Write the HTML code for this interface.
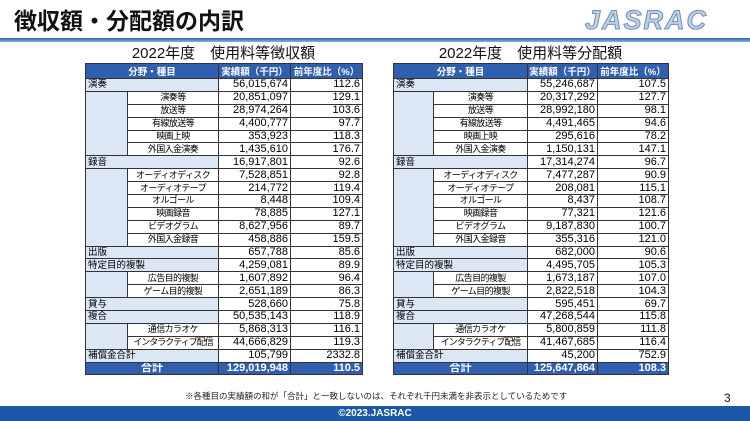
<!DOCTYPE html>
<html><head><meta charset="utf-8"><style>
body{margin:0;width:750px;height:421px;overflow:hidden;background:#fff;font-family:"Liberation Sans","Noto Sans CJK JP",sans-serif;position:relative}
.title{position:absolute;left:14px;top:2px;font-size:23px;font-weight:bold;color:#111}
.logo{position:absolute;left:585px;top:5px;font-size:27px;font-weight:bold;font-style:italic;color:#bcd0e8;letter-spacing:2px;-webkit-text-stroke:1px #6f8fb8}
.line{position:absolute;left:0;top:38px;width:750px;height:4px;background:linear-gradient(#2a63b0,#8fb0d8)}
.st{position:absolute;top:42px;font-size:15px;color:#111;text-align:center}
table{position:absolute;top:63px;border-collapse:collapse;font-size:10.5px;table-layout:fixed}
td{border:1px solid #333;height:11.9px;padding:0 2px;line-height:11px;white-space:nowrap;overflow:hidden}
th{background:#2f5fae;color:#fff;font-weight:bold;border:1px solid #333;height:13px;font-size:9.5px;padding:0}
.c{background:#dbe7f4;font-size:9.5px}
.s{text-align:center;background:#fff;font-size:9px;letter-spacing:-0.6px}
.n{text-align:right;background:#fff;font-size:11px}
tr.t td{background:#2f5fae;color:#fff;font-weight:bold;font-size:11px}
.foot{position:absolute;left:0;top:406px;width:750px;height:15px;background:#1b57a8;color:#fff;font-size:10px;font-weight:bold;text-align:center;line-height:15px}
.note{position:absolute;left:185px;top:390px;font-size:8.5px;color:#222}
.pg{position:absolute;left:724px;top:391px;font-size:12px;color:#111}
</style></head><body>
<div class="title">徴収額・分配額の内訳</div>
<div class="logo">JASRAC</div>
<div class="line"></div>
<div class="st" style="left:85px;width:277px">2022年度　使用料等徴収額</div>
<div class="st" style="left:393px;width:275px">2022年度　使用料等分配額</div>

<table style="left:85px;width:277px">
<colgroup><col style="width:42px"><col style="width:91px"><col style="width:72px"><col style="width:72px"></colgroup>
<tr><th colspan="2">分野・種目</th><th>実績額（千円）</th><th>前年度比（%）</th></tr>
<tr><td class="c" colspan="2">演奏</td><td class="n">56,015,674</td><td class="n">112.6</td></tr>
<tr><td class="c" rowspan="5"></td><td class="s">演奏等</td><td class="n">20,851,097</td><td class="n">129.1</td></tr>
<tr><td class="s">放送等</td><td class="n">28,974,264</td><td class="n">103.6</td></tr>
<tr><td class="s">有線放送等</td><td class="n">4,400,777</td><td class="n">97.7</td></tr>
<tr><td class="s">映画上映</td><td class="n">353,923</td><td class="n">118.3</td></tr>
<tr><td class="s">外国入金演奏</td><td class="n">1,435,610</td><td class="n">176.7</td></tr>
<tr><td class="c" colspan="2">録音</td><td class="n">16,917,801</td><td class="n">92.6</td></tr>
<tr><td class="c" rowspan="6"></td><td class="s">オーディオディスク</td><td class="n">7,528,851</td><td class="n">92.8</td></tr>
<tr><td class="s">オーディオテープ</td><td class="n">214,772</td><td class="n">119.4</td></tr>
<tr><td class="s">オルゴール</td><td class="n">8,448</td><td class="n">109.4</td></tr>
<tr><td class="s">映画録音</td><td class="n">78,885</td><td class="n">127.1</td></tr>
<tr><td class="s">ビデオグラム</td><td class="n">8,627,956</td><td class="n">89.7</td></tr>
<tr><td class="s">外国入金録音</td><td class="n">458,886</td><td class="n">159.5</td></tr>
<tr><td class="c" colspan="2">出版</td><td class="n">657,788</td><td class="n">85.6</td></tr>
<tr><td class="c" colspan="2">特定目的複製</td><td class="n">4,259,081</td><td class="n">89.9</td></tr>
<tr><td class="c" rowspan="2"></td><td class="s">広告目的複製</td><td class="n">1,607,892</td><td class="n">96.4</td></tr>
<tr><td class="s">ゲーム目的複製</td><td class="n">2,651,189</td><td class="n">86.3</td></tr>
<tr><td class="c" colspan="2">貸与</td><td class="n">528,660</td><td class="n">75.8</td></tr>
<tr><td class="c" colspan="2">複合</td><td class="n">50,535,143</td><td class="n">118.9</td></tr>
<tr><td class="c" rowspan="2"></td><td class="s">通信カラオケ</td><td class="n">5,868,313</td><td class="n">116.1</td></tr>
<tr><td class="s" style="letter-spacing:-1px">インタラクティブ配信</td><td class="n">44,666,829</td><td class="n">119.3</td></tr>
<tr><td class="c" colspan="2">補償金合計</td><td class="n">105,799</td><td class="n">2332.8</td></tr>
<tr class="t"><td colspan="2" style="text-align:center">合計</td><td style="text-align:right">129,019,948</td><td style="text-align:right">110.5</td></tr>
</table>

<table style="left:393px;width:275px">
<colgroup><col style="width:40px"><col style="width:94px"><col style="width:70px"><col style="width:71px"></colgroup>
<tr><th colspan="2">分野・種目</th><th>実績額（千円）</th><th>前年度比（%）</th></tr>
<tr><td class="c" colspan="2">演奏</td><td class="n">55,246,687</td><td class="n">107.5</td></tr>
<tr><td class="c" rowspan="5"></td><td class="s">演奏等</td><td class="n">20,317,292</td><td class="n">127.7</td></tr>
<tr><td class="s">放送等</td><td class="n">28,992,180</td><td class="n">98.1</td></tr>
<tr><td class="s">有線放送等</td><td class="n">4,491,465</td><td class="n">94.6</td></tr>
<tr><td class="s">映画上映</td><td class="n">295,616</td><td class="n">78.2</td></tr>
<tr><td class="s">外国入金演奏</td><td class="n">1,150,131</td><td class="n">147.1</td></tr>
<tr><td class="c" colspan="2">録音</td><td class="n">17,314,274</td><td class="n">96.7</td></tr>
<tr><td class="c" rowspan="6"></td><td class="s">オーディオディスク</td><td class="n">7,477,287</td><td class="n">90.9</td></tr>
<tr><td class="s">オーディオテープ</td><td class="n">208,081</td><td class="n">115.1</td></tr>
<tr><td class="s">オルゴール</td><td class="n">8,437</td><td class="n">108.7</td></tr>
<tr><td class="s">映画録音</td><td class="n">77,321</td><td class="n">121.6</td></tr>
<tr><td class="s">ビデオグラム</td><td class="n">9,187,830</td><td class="n">100.7</td></tr>
<tr><td class="s">外国入金録音</td><td class="n">355,316</td><td class="n">121.0</td></tr>
<tr><td class="c" colspan="2">出版</td><td class="n">682,000</td><td class="n">90.6</td></tr>
<tr><td class="c" colspan="2">特定目的複製</td><td class="n">4,495,705</td><td class="n">105.3</td></tr>
<tr><td class="c" rowspan="2"></td><td class="s">広告目的複製</td><td class="n">1,673,187</td><td class="n">107.0</td></tr>
<tr><td class="s">ゲーム目的複製</td><td class="n">2,822,518</td><td class="n">104.3</td></tr>
<tr><td class="c" colspan="2">貸与</td><td class="n">595,451</td><td class="n">69.7</td></tr>
<tr><td class="c" colspan="2">複合</td><td class="n">47,268,544</td><td class="n">115.8</td></tr>
<tr><td class="c" rowspan="2"></td><td class="s">通信カラオケ</td><td class="n">5,800,859</td><td class="n">111.8</td></tr>
<tr><td class="s" style="letter-spacing:-1px">インタラクティブ配信</td><td class="n">41,467,685</td><td class="n">116.4</td></tr>
<tr><td class="c" colspan="2">補償金合計</td><td class="n">45,200</td><td class="n">752.9</td></tr>
<tr class="t"><td colspan="2" style="text-align:center">合計</td><td style="text-align:right">125,647,864</td><td style="text-align:right">108.3</td></tr>
</table>

<div class="note">※各種目の実績額の和が「合計」と一致しないのは、それぞれ千円未満を非表示としているためです</div>
<div class="pg">3</div>
<div class="foot">©2023.JASRAC</div>
</body></html>
